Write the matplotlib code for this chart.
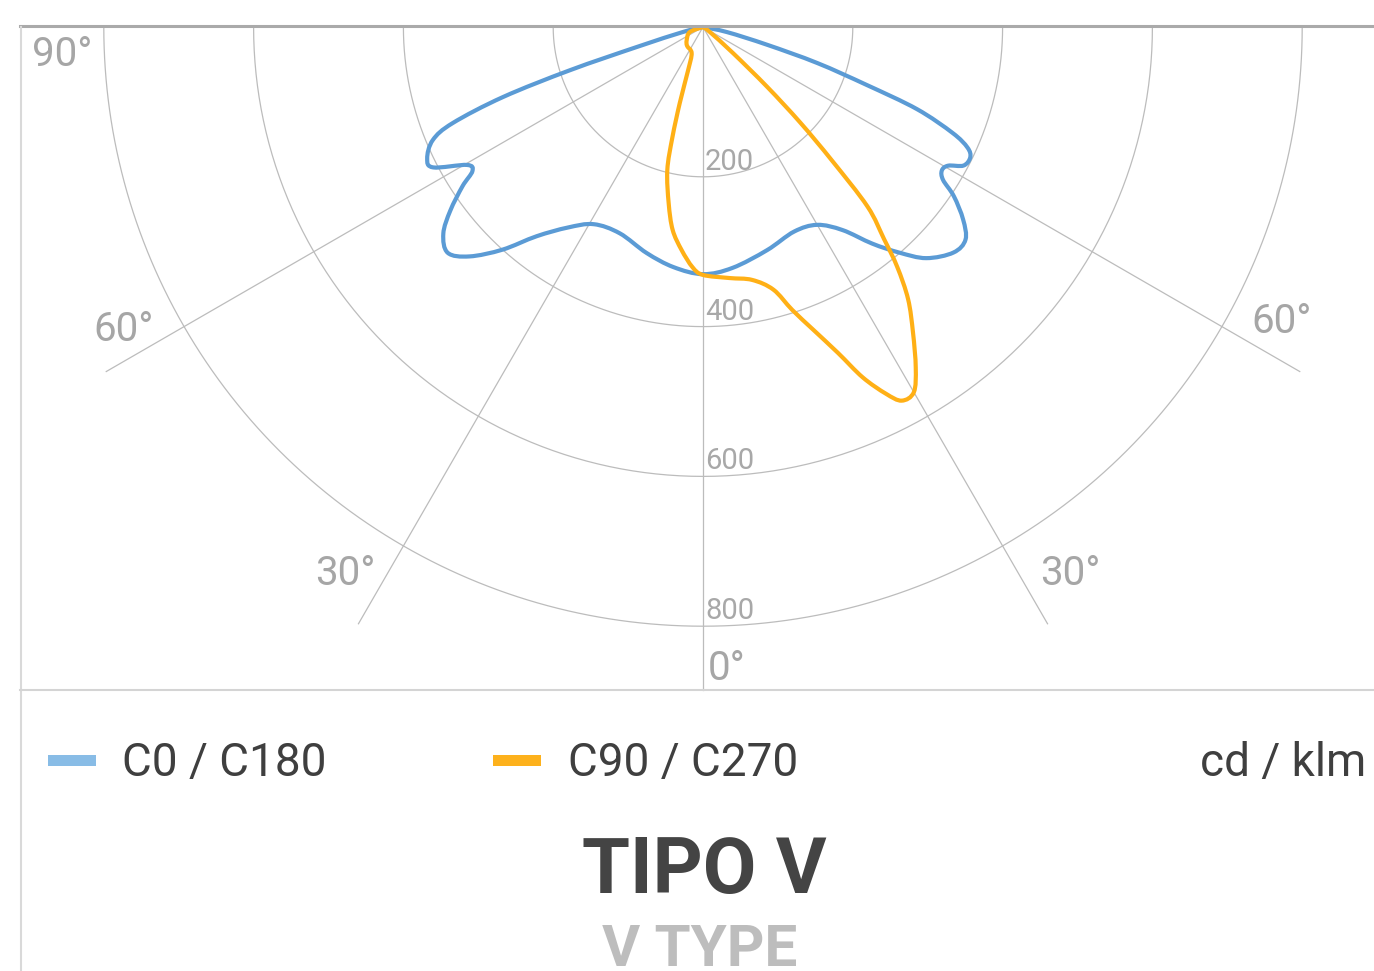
import numpy as np
import matplotlib
matplotlib.use('Agg')
import matplotlib.pyplot as plt
from matplotlib.lines import Line2D
from matplotlib.patches import Rectangle, PathPatch
from matplotlib.path import Path

plt.rcParams['font.family'] = ['Roboto', 'DejaVu Sans']

# photometric data, gamma in degrees from nadir, values in cd/klm
c0_gamma = [0, 7, 16, 24, 30, 34.5, 38, 41, 44, 48, 51, 53.5, 56, 57.5, 59, 60.5, 62, 64, 65.5, 67, 69, 70.5, 72.5, 74.5, 78, 90]
c0_vals = [330, 324, 310, 299, 305, 329, 367, 399, 429, 450, 451, 432, 404, 380, 372, 376, 394, 397, 388, 362, 306, 232, 160, 89, 33, 0]

c180_gamma = [0, 7, 14, 22, 29, 34, 38.5, 42, 45.5, 48.5, 51.5, 54, 56.5, 58, 59.7, 62.5, 64.5, 67.3, 69, 70.7, 72, 73.2, 76, 90]
c180_vals = [330, 323, 311, 297, 301, 323, 357, 400, 437, 455, 443, 417, 385, 363, 365, 406, 408, 391, 358, 283, 187, 92, 28, 0]

c90_gamma = [0, 6, 11, 15, 17.5, 20, 22.5, 24.5, 26.5, 28, 30, 32, 34.5, 37, 39, 40.5, 42.5, 44, 45.5, 47, 49, 54, 90]
c90_vals = [331, 337, 344, 363, 396, 430, 471, 514, 547, 565, 563, 536, 495, 455, 412, 372, 325, 248, 182, 117, 53, 11, 0]

c270_gamma = [0, 2.5, 5.5, 8.5, 11, 14, 15.5, 17, 19, 23.5, 40, 51, 69, 90]
c270_vals = [331, 321, 299, 274, 240, 197, 153, 106, 61, 38, 33, 28, 19, 0]

r_ticks = [200, 400, 600, 800]
spoke_angles = [-60, -30, 30, 60]

W, H = 1374, 971
fig = plt.figure(figsize=(W / 100, H / 100), dpi=100)


def fx(x):
    return x / W


def fy(y):
    return 1 - y / H


def to_xy(gamma_deg, r):
    g = np.radians(gamma_deg)
    r = np.asarray(r, dtype=float)
    return r * np.sin(g), -r * np.cos(g)


def smooth_path(x, y):
    # cubic curve through every data point (catmull-rom style)
    pts = np.column_stack([x, y])
    n = len(pts)
    verts = [pts[0]]
    codes = [Path.MOVETO]
    for i in range(n - 1):
        p0 = pts[i - 1] if i > 0 else pts[i]
        p1, p2 = pts[i], pts[i + 1]
        p3 = pts[i + 2] if i + 2 < n else pts[i + 1]
        verts += [p1 + (p2 - p0) / 6, p2 - (p3 - p1) / 6, p2]
        codes += [Path.CURVE4] * 3
    return Path(verts, codes)


cx, cy = 703, 27
scale = 0.749  # px per cd/klm
rmax = 920

grid_c = '#bcbcbc'
blue = '#5b9bd5'
orange = '#ffb016'

ax = fig.add_axes([0, 0, 1, 1])
ax.set_xlim(-cx / scale, (W - cx) / scale)
ax.set_ylim(-(H - cy) / scale, cy / scale)
ax.axis('off')

t = np.linspace(-90, 90, 361)
for v in r_ticks:
    x, y = to_xy(t, np.full_like(t, v))
    ax.plot(x, y, color=grid_c, lw=0.9, zorder=1)
    ax.annotate(str(v), xy=(0, -v), xytext=(1.5, 5), textcoords='offset points',
                ha='left', va='baseline', fontsize=21, color='#a8a8a8')

for a in spoke_angles:
    x, y = to_xy(np.array([a, a]), [0, rmax])
    ax.plot(x, y, color=grid_c, lw=0.9, zorder=1)
ax.plot([0, 0], [0, -(690 - cy) / scale], color=grid_c, lw=0.9, zorder=1)

g_blue = np.concatenate([-np.array(c180_gamma)[::-1], np.array(c0_gamma)[1:]])
r_blue = np.concatenate([np.array(c180_vals)[::-1], np.array(c0_vals)[1:]])
g_or = np.concatenate([-np.array(c270_gamma)[::-1], np.array(c90_gamma)[1:]])
r_or = np.concatenate([np.array(c270_vals)[::-1], np.array(c90_vals)[1:]])

bx, by = to_xy(g_blue, r_blue)
ox, oy = to_xy(g_or, r_or)
ax.add_patch(PathPatch(smooth_path(bx, by), fill=False, edgecolor=blue, lw=3,
                       joinstyle='round', capstyle='round', zorder=3))
ax.add_patch(PathPatch(smooth_path(ox, oy), fill=False, edgecolor=orange, lw=3,
                       joinstyle='round', capstyle='round', zorder=4))

# angle labels
ang_c = '#a6a6a6'
for txt, x, y in [('90°', 32, 66), ('60°', 93, 341), ('60°', 1251, 333),
                  ('30°', 315, 585), ('30°', 1040, 585), ('0°', 708, 680)]:
    fig.text(fx(x), fy(y), txt, ha='left', va='baseline', fontsize=29, color=ang_c)

# frame lines
fig.add_artist(Line2D([fx(20), fx(W)], [fy(26), fy(26)], color='#aaaaaa', lw=2.2))
fig.add_artist(Line2D([fx(20.5), fx(20.5)], [fy(27), fy(H)], color='#d9d9d9', lw=1.5))
fig.add_artist(Line2D([fx(20), fx(W)], [fy(690), fy(690)], color='#d4d4d4', lw=1.5))

# legend
fig.add_artist(Rectangle((fx(48), fy(766)), 48 / W, 11 / H, transform=fig.transFigure,
                         color='#88bce6', lw=0))
fig.add_artist(Rectangle((fx(493), fy(766)), 48 / W, 11 / H, transform=fig.transFigure,
                         color='#fdb11c', lw=0))
txt_c = '#3f3f3f'
fig.text(fx(122), fy(776), 'C0 / C180', ha='left', va='baseline', fontsize=33, color=txt_c)
fig.text(fx(568), fy(776), 'C90 / C270', ha='left', va='baseline', fontsize=33, color=txt_c)
fig.text(fx(1366), fy(776), 'cd / klm', ha='right', va='baseline', fontsize=33, color=txt_c)

fig.text(fx(704), fy(893), 'TIPO V', ha='center', va='baseline', fontsize=56,
         fontweight='bold', color='#444444')
fig.text(fx(700), fy(966), 'V TYPE', ha='center', va='baseline', fontsize=42,
         fontweight='bold', color='#bdbdbd')

fig.savefig('out.png', dpi=100, facecolor='white')
